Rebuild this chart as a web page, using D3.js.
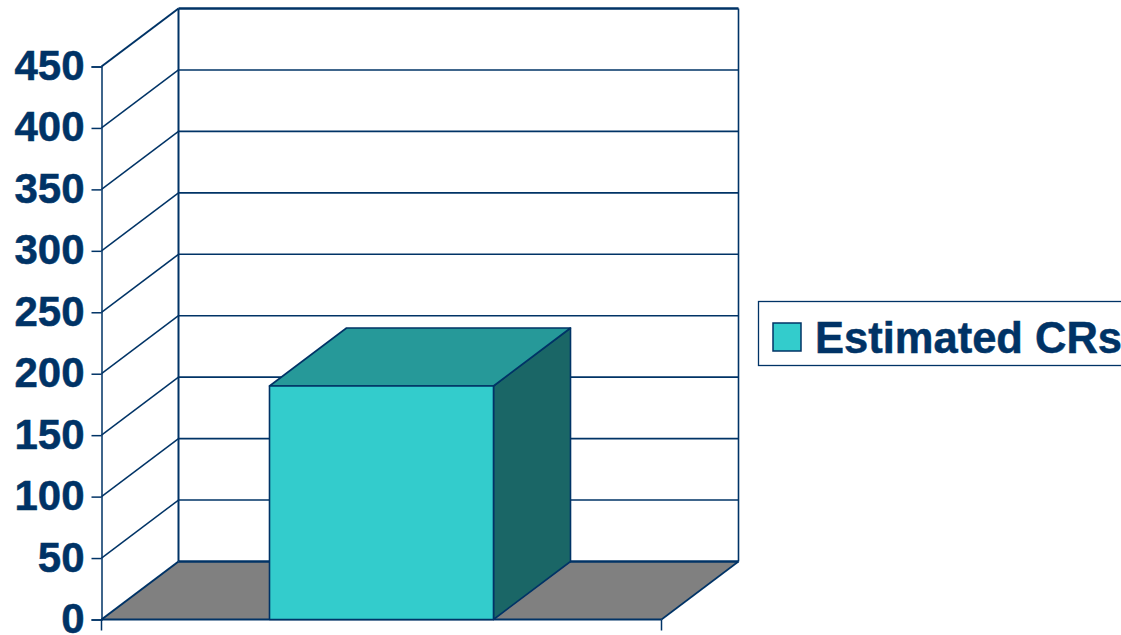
<!DOCTYPE html>
<html>
<head>
<meta charset="utf-8">
<script src="https://cdn.jsdelivr.net/npm/d3@7"></script>
<style>
html,body{margin:0;padding:0;background:#fff;overflow:hidden}
svg{display:block}
text{font-family:"Liberation Sans",Arial,sans-serif;font-weight:bold;fill:#003366;stroke:#003366;stroke-width:0.5px}
</style>
</head>
<body>
<svg id="chart" width="1121" height="635"></svg>
<script>
// Chart data
const categories = ["CRs"];
const seriesName = "Estimated CRs";
const seriesValues = [190];
const yTicks = [0, 50, 100, 150, 200, 250, 300, 350, 400, 450];

// Colours
const navy = "#003366", face = "#33CCCC", topFace = "#269999", sideFace = "#1A6666", floor = "#808080";

// Front plane of the 3D box and its depth offset
const depthX = 77, depthY = -58;
const x = d3.scaleBand().domain(categories).range([101.5, 661.5]).paddingInner(0.6).paddingOuter(0.3);
const y = d3.scaleLinear().domain([0, 450]).range([619.5, 66.5]);
const [x0, x1] = x.range();

const svg = d3.select("#chart");
const poly = pts => pts.map(p => p.join(",")).join(" ");

// Floor
svg.append("polygon")
  .attr("points", poly([[x0, y(0)], [x0 + depthX, y(0) + depthY], [x1 + depthX, y(0) + depthY], [x1, y(0)]]))
  .attr("fill", floor);

// Gridlines along the back wall and the left wall
const grid = svg.append("g").attr("fill", "none").attr("stroke", navy);
grid.selectAll(".back").data(yTicks).join("line").attr("class", "back")
  .attr("x1", x0 + depthX).attr("x2", x1 + depthX)
  .attr("y1", d => y(d) + depthY).attr("y2", d => y(d) + depthY)
  .attr("stroke-width", d => (d === 0 || d === 450) ? 2.4 : 1.6);
grid.selectAll(".side").data(yTicks).join("line").attr("class", "side")
  .attr("x1", x0).attr("x2", x0 + depthX)
  .attr("y1", d => y(d)).attr("y2", d => y(d) + depthY)
  .attr("stroke-width", d => (d === 0 || d === 450) ? 2 : 1.5);

// Wall edges
grid.append("line").attr("x1", x0 + depthX).attr("x2", x0 + depthX)
  .attr("y1", y(450) + depthY).attr("y2", y(0) + depthY).attr("stroke-width", 2);
grid.append("line").attr("x1", x1 + depthX).attr("x2", x1 + depthX)
  .attr("y1", y(450) + depthY).attr("y2", y(0) + depthY).attr("stroke-width", 1.6);
grid.append("line").attr("x1", x1).attr("x2", x1 + depthX)
  .attr("y1", y(0)).attr("y2", y(0) + depthY).attr("stroke-width", 1.6);

// Value axis with its ticks and labels
const axis = d3.axisLeft(y).tickValues(yTicks).tickSize(10).tickPadding(7);
const gAxis = svg.append("g").attr("transform", `translate(${x0},0)`).call(axis);
gAxis.select(".domain").attr("stroke", navy).attr("stroke-width", 1.5);
gAxis.selectAll(".tick line").attr("stroke", navy).attr("stroke-width", 1.5);
gAxis.selectAll(".tick text").attr("font-size", 42).attr("font-family", null).attr("fill", navy).attr("dy", "0.31em");
gAxis.attr("font-family", null).attr("font-size", null);

// Category axis baseline with end ticks
const baseline = svg.append("g").attr("stroke", navy).attr("stroke-width", 1.5);
baseline.append("line").attr("x1", x0).attr("x2", x1).attr("y1", y(0)).attr("y2", y(0)).attr("stroke-width", 2);
[x0, x1].forEach(px => baseline.append("line").attr("x1", px).attr("x2", px).attr("y1", y(0)).attr("y2", y(0) + 11));

// The bar: front, top and side faces
const bars = svg.append("g").attr("stroke", navy).attr("stroke-width", 1.6).attr("stroke-linejoin", "round");
categories.forEach((c, i) => {
  const l = x(c), r = l + x.bandwidth(), t = y(seriesValues[i]), b = y(0);
  bars.append("polygon").attr("fill", sideFace)
    .attr("points", poly([[r, t], [r + depthX, t + depthY], [r + depthX, b + depthY], [r, b]]));
  bars.append("polygon").attr("fill", topFace)
    .attr("points", poly([[l, t], [l + depthX, t + depthY], [r + depthX, t + depthY], [r, t]]));
  bars.append("rect").attr("fill", face)
    .attr("x", l).attr("y", t).attr("width", r - l).attr("height", b - t);
});

// Legend, whose box runs off the right edge
const legend = svg.append("g");
legend.append("rect").attr("x", 758.5).attr("y", 301.5).attr("width", 400).attr("height", 64)
  .attr("fill", "#fff").attr("stroke", navy).attr("stroke-width", 1.3);
legend.append("rect").attr("x", 773).attr("y", 323).attr("width", 28).attr("height", 28)
  .attr("fill", face).attr("stroke", navy).attr("stroke-width", 1.5);
legend.append("text").attr("x", 815).attr("y", 352.5).attr("font-size", 43.5).text(seriesName);
</script>
</body>
</html>
